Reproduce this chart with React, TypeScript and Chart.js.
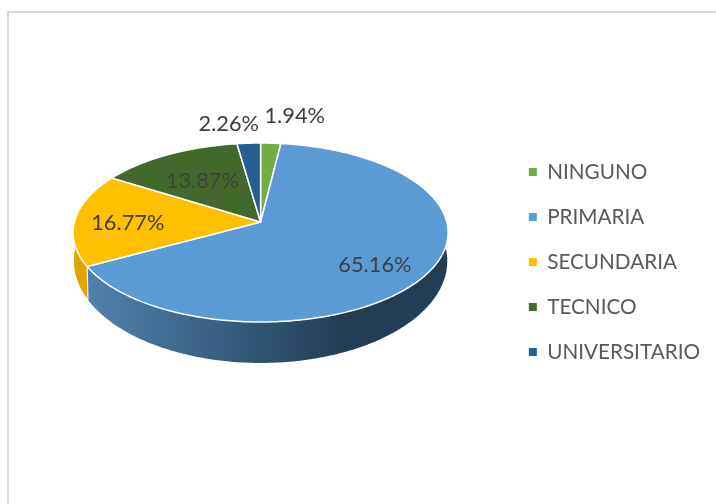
import React, { useEffect, useRef } from "react";
import { Chart, registerables } from "chart.js";

Chart.register(...registerables);

const categories = ["NINGUNO", "PRIMARIA", "SECUNDARIA", "TECNICO", "UNIVERSITARIO"];
const shares = [1.94, 65.16, 16.77, 13.87, 2.26];
const topColors = ["#70AD47", "#5B9BD5", "#FFC000", "#43682B", "#255E91"];
const sideColors = ["#5f9439", "#4f81b0", "#DDA600", "#375623", "#1f4e79"];
const labelPlacement = [
  { radial: 1, dx: 24, dy: -27 },
  { radial: 0.72, dx: -2, dy: 5 },
  { radial: 0.71, dx: -1, dy: 3 },
  { radial: 0.64, dx: 3, dy: 3 },
  { radial: 1, dx: -20, dy: -19 },
];

const FONT = "Lato, Carlito, sans-serif";
const LABEL_SIZE = 21.8;

// Perspective projection of the pie's unit disc: upper rim and lower rim.
const apexX = 260.6;
const apexY = 222;
const scaleX = 186.2;
const scaleY = 88.27;
const tilt = -0.1173;
const lowerApexY = 249;
const lowerScaleX = 185.4;
const lowerScaleY = 100.6;

const project = (angle: number, radius = 1) => {
  const u = Math.cos(angle) * radius;
  const v = Math.sin(angle) * radius;
  const w = 1 + tilt * v;
  return { x: apexX + (scaleX * u) / w, y: apexY + (scaleY * v) / w };
};

const projectLower = (angle: number) => {
  const u = Math.cos(angle);
  const v = Math.sin(angle);
  const w = 1 + tilt * v;
  return { x: apexX + (lowerScaleX * u) / w, y: lowerApexY + (lowerScaleY * v) / w };
};

const tracePath = (ctx: CanvasRenderingContext2D, start: number, end: number) => {
  const steps = Math.max(4, Math.ceil((end - start) * 60));
  for (let i = 0; i <= steps; i++) {
    const p = project(start + ((end - start) * i) / steps);
    ctx.lineTo(p.x, p.y);
  }
};

const pie3d = {
  id: "pie3d",
  beforeDatasetsDraw(chart: any) {
    const ctx: CanvasRenderingContext2D = chart.ctx;
    const arcs = chart.getDatasetMeta(0).data;
    ctx.save();
    // side walls
    arcs.forEach((arc: any, i: number) => {
      const { startAngle, endAngle } = arc;
      const steps = Math.max(4, Math.ceil((endAngle - startAngle) * 60));
      ctx.beginPath();
      tracePath(ctx, startAngle, endAngle);
      for (let k = steps; k >= 0; k--) {
        const p = projectLower(startAngle + ((endAngle - startAngle) * k) / steps);
        ctx.lineTo(p.x, p.y);
      }
      ctx.closePath();
      if (i === 1) {
        const g = ctx.createLinearGradient(88, 0, 345, 0);
        g.addColorStop(0, sideColors[i]);
        g.addColorStop(1, "#233D54");
        ctx.fillStyle = g;
      } else {
        ctx.fillStyle = sideColors[i];
      }
      ctx.fill();
    });
    // seams on the front wall
    arcs.forEach((arc: any) => {
      if (Math.sin(arc.startAngle) > 0.05) {
        const p = project(arc.startAngle);
        const q = projectLower(arc.startAngle);
        ctx.beginPath();
        ctx.moveTo(p.x, p.y);
        ctx.lineTo(q.x, q.y);
        ctx.strokeStyle = "#f2f5f8";
        ctx.lineWidth = 1.2;
        ctx.stroke();
      }
    });
    // top faces
    arcs.forEach((arc: any, i: number) => {
      ctx.beginPath();
      ctx.moveTo(apexX, apexY);
      tracePath(ctx, arc.startAngle, arc.endAngle);
      ctx.closePath();
      ctx.fillStyle = topColors[i];
      ctx.fill();
      ctx.strokeStyle = "#ffffff";
      ctx.lineWidth = 1.5;
      ctx.lineJoin = "round";
      ctx.stroke();
    });
    // value labels
    ctx.font = `${LABEL_SIZE}px ${FONT}`;
    ctx.fillStyle = "#404040";
    ctx.textAlign = "center";
    ctx.textBaseline = "middle";
    arcs.forEach((arc: any, i: number) => {
      const place = labelPlacement[i];
      const p = project((arc.startAngle + arc.endAngle) / 2, place.radial);
      ctx.fillText(`${shares[i].toFixed(2)}%`, p.x + place.dx, p.y + place.dy);
    });
    ctx.restore();
    return false;
  },
};

export default function App() {
  const ref = useRef<HTMLCanvasElement>(null);
  useEffect(() => {
    document.body.style.margin = "0";
    const chart = new Chart(ref.current!, {
      type: "pie",
      data: {
        labels: categories,
        datasets: [{ data: shares, backgroundColor: topColors, borderWidth: 0 }],
      },
      options: {
        responsive: false,
        animation: false,
        layout: { padding: { top: 20, right: 6, bottom: 0, left: 0 } },
        plugins: {
          tooltip: { enabled: false },
          legend: {
            position: "right",
            labels: {
              boxWidth: 8,
              boxHeight: 8,
              padding: 24.3,
              color: "#595959",
              font: { family: FONT, size: 20.7 },
            },
          },
        },
      },
      plugins: [pie3d],
    } as any);
    return () => chart.destroy();
  }, []);
  return (
    <div style={{ position: "relative", width: 716, height: 504, overflow: "hidden", background: "#fff" }}>
      <div
        style={{
          position: "absolute",
          left: 7,
          top: 11,
          width: 720,
          height: 500,
          borderLeft: "2px solid #d9d9d9",
          borderTop: "2px solid #d9d9d9",
        }}
      />
      <canvas ref={ref} width={716} height={504} style={{ position: "absolute", left: 0, top: 0 }} />
    </div>
  );
}
